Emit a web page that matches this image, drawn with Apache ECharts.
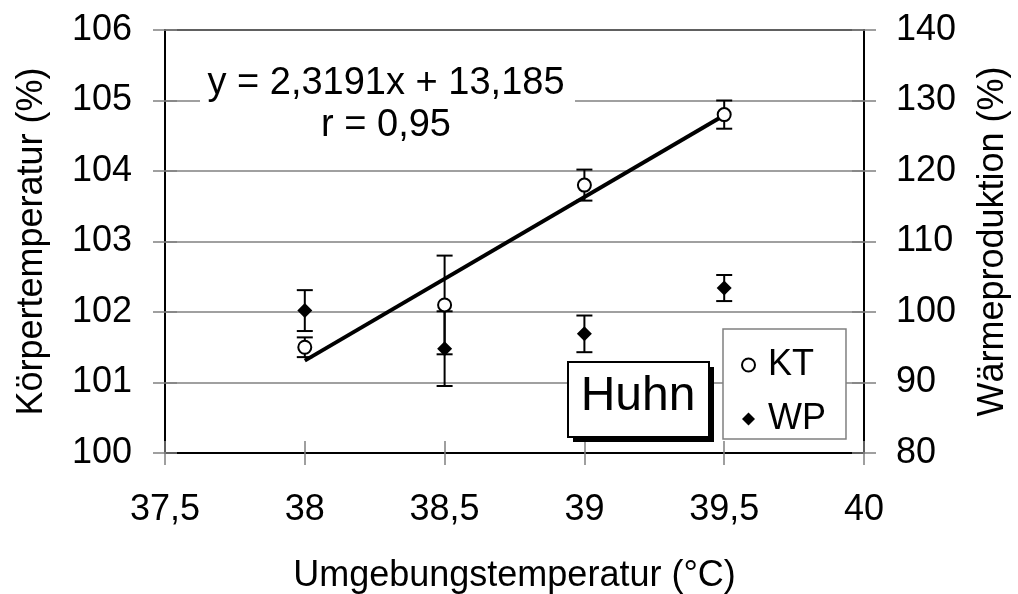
<!DOCTYPE html>
<html>
<head>
<meta charset="utf-8">
<script src="https://cdn.jsdelivr.net/npm/echarts@6/dist/echarts.min.js"></script>
<style>
html,body{margin:0;padding:0;background:#fff;}
#chart{width:1018px;height:594px;}
</style>
</head>
<body>
<div id="chart"></div>
<script>
// ---- data ----
const temps = [38, 38.5, 39, 39.5];            // Umgebungstemperatur (°C)
const ktMean = [101.5, 102.1, 103.8, 104.8];   // Körpertemperatur (%)
const ktErr = [0.14, 0.7, 0.22, 0.2];
const wpMean = [100.2, 94.8, 96.9, 103.4];     // Wärmeproduktion (%)
const wpErr = [2.9, 5.3, 2.6, 1.85];
const trendX = [38, 39.5];                     // regression line end points
const trendY = [101.31, 104.79];
const equationText = ['y = 2,3191x + 13,185', 'r = 0,95'];
const xRange = {min: 37.5, max: 40, interval: 0.5};
const yLeftRange = {min: 100, max: 106, interval: 1};
const yRightRange = {min: 80, max: 140, interval: 10};

const FONT = '"Liberation Sans", Arial, sans-serif';
const comma = v => String(v).replace('.', ',');

const ktPoints = temps.map((t, i) => [t, ktMean[i]]);
const wpPoints = temps.map((t, i) => [t, wpMean[i]]);
const ktBars = temps.map((t, i) => [t, ktMean[i] - ktErr[i], ktMean[i] + ktErr[i]]);
const wpBars = temps.map((t, i) => [t, wpMean[i] - wpErr[i], wpMean[i] + wpErr[i]]);
const trendPoints = trendX.map((x, i) => [x, trendY[i]]);

function errorBar(params, api) {
  const x = api.value(0);
  const top = api.coord([x, api.value(2)]);
  const bot = api.coord([x, api.value(1)]);
  const hw = 8;
  const st = {stroke: '#000', lineWidth: 2};
  return {
    type: 'group',
    children: [
      {type: 'line', shape: {x1: top[0], y1: top[1], x2: bot[0], y2: bot[1]}, style: st},
      {type: 'line', shape: {x1: top[0] - hw, y1: top[1], x2: top[0] + hw, y2: top[1]}, style: st},
      {type: 'line', shape: {x1: bot[0] - hw, y1: bot[1], x2: bot[0] + hw, y2: bot[1]}, style: st}
    ]
  };
}

const tickStyle = {color: '#808080', width: 1.5};
const labelStyle = {fontSize: 36, color: '#000', fontFamily: FONT};
const diamondPath = 'path://M0,-1L1,0L0,1L-1,0Z';

const chart = echarts.init(document.getElementById('chart'));
chart.setOption({
  animation: false,
  backgroundColor: '#fff',
  grid: {left: 165, right: 154, top: 30, bottom: 141, show: true, borderColor: '#000', borderWidth: 2,
         backgroundColor: 'transparent', containLabel: false, outerBoundsMode: 'none'},
  legend: {
    data: [{name: 'KT'}, {name: 'WP', icon: diamondPath}],
    orient: 'vertical',
    left: 723, top: 329,
    padding: [18, 20, 2, 18],
    itemGap: 18,
    itemWidth: 13, itemHeight: 13,
    selectedMode: false,
    backgroundColor: '#fff',
    borderColor: '#808080', borderWidth: 1.5,
    textStyle: {fontSize: 36, color: '#000', fontFamily: FONT, padding: [0, 0, 0, 8]}
  },
  xAxis: [
    {
      type: 'value', min: xRange.min, max: xRange.max, interval: xRange.interval,
      axisLine: {show: true, onZero: false, lineStyle: {color: '#000', width: 2}},
      axisTick: {show: true, inside: false, length: 12, lineStyle: tickStyle},
      axisLabel: Object.assign({formatter: comma, margin: 39}, labelStyle),
      splitLine: {show: false},
      name: 'Umgebungstemperatur (°C)', nameLocation: 'middle', nameGap: 105,
      nameTextStyle: labelStyle
    },
    {
      type: 'value', min: xRange.min, max: xRange.max, interval: xRange.interval, position: 'bottom',
      axisLine: {show: false}, axisTick: {show: true, inside: true, length: 12, lineStyle: tickStyle},
      axisLabel: {show: false}, splitLine: {show: false}
    }
  ],
  yAxis: [
    {
      type: 'value', min: yLeftRange.min, max: yLeftRange.max, interval: yLeftRange.interval, position: 'left',
      axisLine: {show: true, onZero: false, lineStyle: {color: '#000', width: 2}},
      axisTick: {show: true, inside: false, length: 12, lineStyle: tickStyle},
      axisLabel: Object.assign({margin: 33}, labelStyle),
      splitLine: {show: true, lineStyle: {color: '#808080', width: 1.5}},
      name: 'Körpertemperatur (%)', nameLocation: 'middle', nameGap: 115, nameRotate: 90,
      nameTextStyle: labelStyle
    },
    {
      type: 'value', min: yRightRange.min, max: yRightRange.max, interval: yRightRange.interval, position: 'right',
      axisLine: {show: true, onZero: false, lineStyle: {color: '#000', width: 2}},
      axisTick: {show: true, inside: false, length: 12, lineStyle: tickStyle},
      axisLabel: Object.assign({margin: 32}, labelStyle),
      splitLine: {show: false},
      name: 'Wärmeproduktion (%)', nameLocation: 'middle', nameGap: 111, nameRotate: 90,
      nameTextStyle: labelStyle
    },
    {
      type: 'value', min: yLeftRange.min, max: yLeftRange.max, interval: yLeftRange.interval, position: 'left',
      axisLine: {show: false}, axisTick: {show: true, inside: true, length: 12, lineStyle: tickStyle},
      axisLabel: {show: false}, splitLine: {show: false}
    },
    {
      type: 'value', min: yRightRange.min, max: yRightRange.max, interval: yRightRange.interval, position: 'right',
      axisLine: {show: false}, axisTick: {show: true, inside: true, length: 12, lineStyle: tickStyle},
      axisLabel: {show: false}, splitLine: {show: false}
    }
  ],
  series: [
    {
      type: 'line', name: 'Trend', data: trendPoints, xAxisIndex: 0, yAxisIndex: 0,
      showSymbol: false, symbol: 'none', lineStyle: {color: '#000', width: 4}, z: 3, silent: true
    },
    {type: 'custom', name: 'KT err', data: ktBars, xAxisIndex: 0, yAxisIndex: 0, renderItem: errorBar, z: 4, silent: true},
    {type: 'custom', name: 'WP err', data: wpBars, xAxisIndex: 0, yAxisIndex: 1, renderItem: errorBar, z: 4, silent: true},
    {
      type: 'scatter', name: 'KT', data: ktPoints, xAxisIndex: 0, yAxisIndex: 0,
      symbol: 'circle', symbolSize: 13,
      itemStyle: {color: '#fff', borderColor: '#000', borderWidth: 2, opacity: 1}, z: 5
    },
    {
      type: 'scatter', name: 'WP', data: wpPoints, xAxisIndex: 0, yAxisIndex: 1,
      symbol: diamondPath, symbolSize: 15,
      itemStyle: {color: '#000', opacity: 1}, z: 5
    }
  ],
  graphic: [
    {type: 'rect', shape: {x: 200, y: 56, width: 375, height: 92}, style: {fill: '#fff'}, z: 10, silent: true},
    {type: 'text', x: 386, y: 84, style: {text: equationText[0], fontSize: 38, fontFamily: FONT, fill: '#000', align: 'center', verticalAlign: 'middle'}, z: 11},
    {type: 'text', x: 386, y: 126, style: {text: equationText[1], fontSize: 38, fontFamily: FONT, fill: '#000', align: 'center', verticalAlign: 'middle'}, z: 11},
    {type: 'rect', shape: {x: 573, y: 367, width: 141, height: 75}, style: {fill: '#000'}, z: 10, silent: true},
    {type: 'rect', shape: {x: 568, y: 362, width: 141, height: 75}, style: {fill: '#fff', stroke: '#000', lineWidth: 2}, z: 11, silent: true},
    {type: 'text', x: 638, y: 397, style: {text: 'Huhn', fontSize: 48, fontFamily: FONT, fill: '#000', align: 'center', verticalAlign: 'middle'}, z: 12}
  ]
});
</script>
</body>
</html>
